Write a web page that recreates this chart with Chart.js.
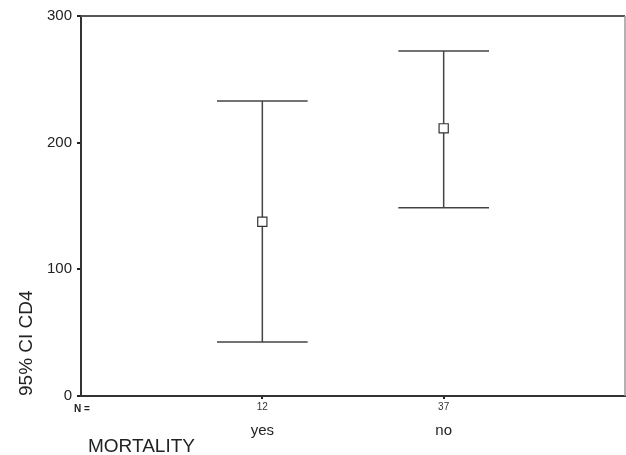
<!DOCTYPE html>
<html>
<head>
<meta charset="utf-8">
<script src="https://cdn.jsdelivr.net/npm/chart.js@4.4.1/dist/chart.umd.min.js"></script>
<style>
  html, body { margin: 0; padding: 0; background: #fff; }
  #wrap { width: 626px; height: 455px; }
</style>
</head>
<body>
<div id="wrap"><canvas id="mychart"></canvas></div>
<script>
// error bar data (95% CI of CD4 by mortality)
const categories = ["yes", "no"];
const counts = [12, 37];
const means = [137.6, 211.3];
const lower = [42.6, 148.6];
const upper = [232.8, 272.3];
const yTicks = [0, 100, 200, 300];

const font = "'Liberation Sans', Arial, sans-serif";
const capHalf = 0.25;

// whisker stems and caps built from the arrays, null breaks the line
var stems = [];
var caps = [];
var pts = [];
for (var i = 0; i < categories.length; i++) {
  var xv = i + 1;
  stems.push({ x: xv, y: lower[i] }, { x: xv, y: upper[i] }, { x: xv, y: null });
  caps.push({ x: xv - capHalf, y: upper[i] }, { x: xv + capHalf, y: upper[i] }, { x: xv, y: null });
  caps.push({ x: xv - capHalf, y: lower[i] }, { x: xv + capHalf, y: lower[i] }, { x: xv, y: null });
  pts.push({ x: xv, y: means[i] });
}

const textPlugin = {
  id: "texts",
  afterDraw: (chart) => {
    const ctx = chart.ctx;
    const area = chart.chartArea;
    const xs = chart.scales.x;
    ctx.save();
    // frame top and right
    ctx.strokeStyle = "#555";
    ctx.lineWidth = 2;
    ctx.beginPath();
    ctx.moveTo(area.left, area.top);
    ctx.lineTo(area.right, area.top);
    ctx.stroke();
    ctx.strokeStyle = "#999";
    ctx.lineWidth = 1.5;
    ctx.beginPath();
    ctx.moveTo(area.right, area.top);
    ctx.lineTo(area.right, area.bottom);
    ctx.stroke();

    ctx.fillStyle = "#222";
    ctx.font = "bold 10px " + font;
    ctx.textAlign = "left";
    ctx.textBaseline = "alphabetic";
    ctx.fillText("N =", 74, 412);

    ctx.font = "15px " + font;
    ctx.textAlign = "center";
    for (var i = 0; i < categories.length; i++) {
      ctx.fillText(categories[i], xs.getPixelForValue(i + 1), 435);
    }

    ctx.font = "19px " + font;
    ctx.textAlign = "left";
    ctx.fillText("MORTALITY", 88, 452);

    // y axis title
    ctx.translate(32, area.bottom);
    ctx.rotate(-Math.PI / 2);
    ctx.textAlign = "left";
    ctx.fillText("95% CI CD4", 0, 0);
    ctx.restore();
  },
};

const config = {
  type: "scatter",
  data: {
    datasets: [
      {
        label: "stems",
        data: stems,
        showLine: true,
        spanGaps: false,
        borderColor: "#444",
        borderWidth: 1.5,
        pointRadius: 0,
        order: 3,
      },
      {
        label: "caps",
        data: caps,
        showLine: true,
        spanGaps: false,
        borderColor: "#444",
        borderWidth: 1.5,
        pointRadius: 0,
        order: 2,
      },
      {
        label: "mean",
        data: pts,
        pointStyle: "rect",
        pointRadius: 6.5,
        borderWidth: 1.2,
        borderColor: "#333",
        backgroundColor: "#fff",
        order: 1,
      },
    ],
  },
  options: {
    responsive: true,
    maintainAspectRatio: false,
    animation: false,
    layout: { autoPadding: false, padding: { top: 16, right: 1, left: 0, bottom: 0 } },
    plugins: {
      legend: { display: false },
      tooltip: { enabled: false },
    },
    scales: {
      x: {
        type: "linear",
        min: 0,
        max: 3,
        afterBuildTicks: (scale) => {
          scale.ticks = categories.map((c, i) => ({ value: i + 1 }));
        },
        afterFit: (scale) => {
          scale.height = 59;
          scale.paddingLeft = 0;
          scale.paddingRight = 0;
        },
        border: { color: "#333", width: 2 },
        grid: { drawOnChartArea: false, color: "#222", lineWidth: 2, tickLength: 3 },
        ticks: {
          autoSkip: false,
          maxRotation: 0,
          padding: 2,
          color: "#333",
          font: { family: font, size: 10 },
          callback: (v) => counts[v - 1],
        },
      },
      y: {
        min: 0,
        max: 300,
        afterBuildTicks: (scale) => {
          scale.ticks = yTicks.map((v) => ({ value: v }));
        },
        afterFit: (scale) => {
          scale.width = 81;
          scale.paddingTop = 0;
          scale.paddingBottom = 0;
        },
        border: { color: "#333", width: 2 },
        grid: { drawOnChartArea: false, color: "#222", lineWidth: 2, tickLength: 4 },
        ticks: {
          padding: 5,
          color: "#222",
          font: { family: font, size: 15 },
        },
      },
    },
  },
  plugins: [textPlugin],
};

const mychart = new Chart(document.getElementById("mychart"), config);
</script>
</body>
</html>
